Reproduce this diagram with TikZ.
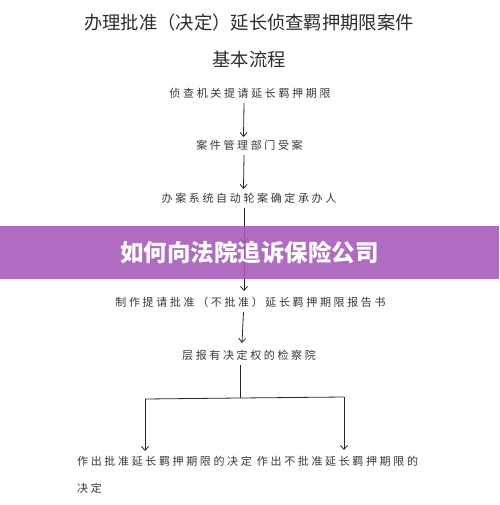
\documentclass[tikz,border=0pt]{standalone}
\usepackage{fontspec}
\newfontfamily\cjk{Noto Sans CJK SC}
\newfontfamily\cjksp[LetterSpace=24]{Noto Sans CJK SC}
\usetikzlibrary{arrows.meta,calc}
\definecolor{banner}{RGB}{166,92,186}
\definecolor{ink}{RGB}{45,45,45}
\definecolor{inklight}{RGB}{55,55,55}
\begin{document}
\begin{tikzpicture}[x=1pt,y=-1pt,
  titletext/.style={inner sep=0pt, text=ink, font=\cjk\fontsize{18.3}{20}\selectfont},
  flowtext/.style={inner sep=0pt, text=inklight, font=\cjksp\fontsize{11}{13}\selectfont},
  arr/.style={draw=black!85, line width=0.8pt, -{Straight Barb[length=4pt,width=7pt]}},
  plain/.style={draw=black!85, line width=0.8pt}]
\useasboundingbox (0,0) rectangle (499,505);
\node[titletext] (h1) at (249,23) {办理批准（决定）延长侦查羁押期限案件};
\node[titletext] (h2) at (249,60) {基本流程};
\node[flowtext] (t1) at (250,93) {侦查机关提请延长羁押期限};
\node[flowtext] (t2) at (249.5,145) {案件管理部门受案};
\node[flowtext] (t3) at (249,198) {办案系统自动轮案确定承办人};
\node[flowtext] (t4) at (250.5,302) {制作提请批准（不批准）延长羁押期限报告书};
\node[flowtext] (t5) at (249,355) {层报有决定权的检察院};
\node[flowtext, anchor=west] (t6) at (77,461) {作出批准延长羁押期限的决定 作出不批准延长羁押期限的};
\node[flowtext, anchor=west] (t7) at (77,488) {决定};
\draw[arr] ($(t1)+(-6,10)$) -- ($(t2)+(-6,-8)$);
\draw[arr] ($(t2)+(-5.5,10)$) -- ($(t3)+(-5.5,-9)$);
\draw[arr] ($(t3)+(-5,10)$) -- ($(t3)+(-5,45)$);
\draw[arr] ($(t3)+(-5,10)$) -- ($(t4)+(-6.5,-11)$);
\coordinate (j) at (240,398);
\coordinate (L) at (145,399);
\coordinate (R) at (344,397);
\draw[plain] ($(t5)+(-9,10)$) -- (j);
\draw[plain] (L) -- (j) -- (R);
\draw[arr] (L) -- (L |- 0,451);
\draw[arr] (R) -- (R |- 0,450);
\draw[arr] ($(t4)+(-7,10)$) -- ($(t5)+(-7,-12)$);
\node[fill=banner, fill opacity=0.9, inner sep=0pt, minimum width=499pt, minimum height=53pt] (band) at (249.5,252.5) {};
\node[inner sep=0pt, text=white, font=\cjk\bfseries\fontsize{23.5}{26}\selectfont] (bt) at (band.center) {如何向法院追诉保险公司};
\end{tikzpicture}
\end{document}
